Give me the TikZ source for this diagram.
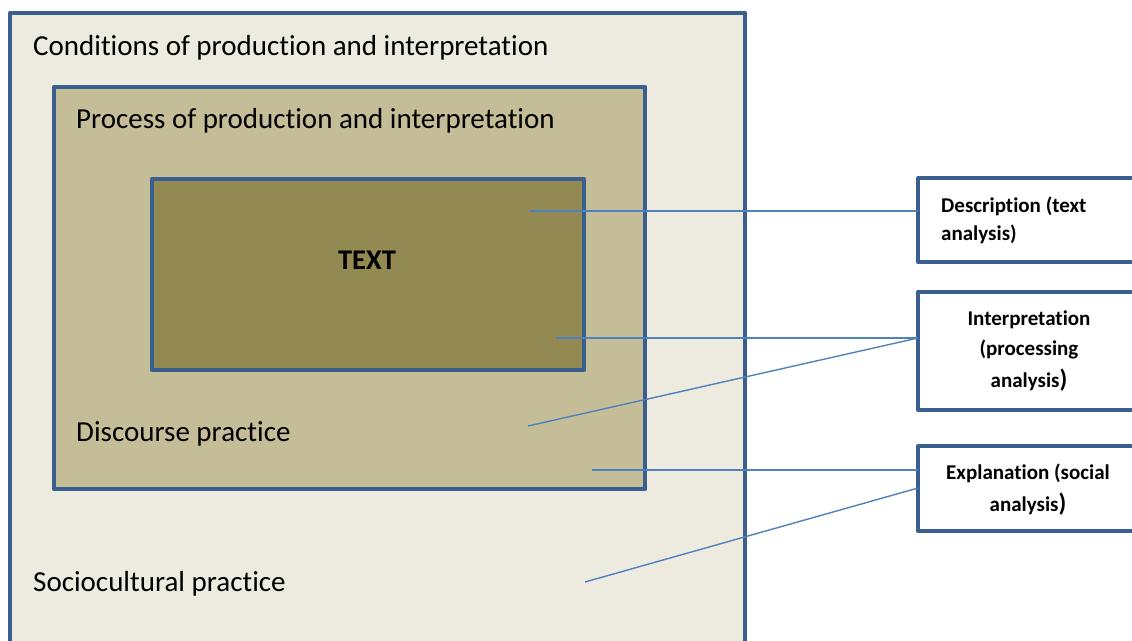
\documentclass[tikz,border=0pt]{standalone}
\usepackage{fontspec}
\setmainfont{Carlito}[Ligatures=NoCommon]
\definecolor{outerfill}{HTML}{EDEBE0}
\definecolor{midfill}{HTML}{C4BD97}
\definecolor{innerfill}{HTML}{938953}
\definecolor{boxline}{HTML}{3A5F8E}
\definecolor{conn}{HTML}{4F81BD}
\tikzset{
  frame/.style={draw=boxline, line width=4.5pt, line join=round},
  sidebox/.style={draw=boxline, line width=4pt, fill=white, line join=round},
  biglabel/.style={inner sep=0pt, anchor=base west, font=\fontsize{29}{32}\selectfont},
  sidelabel/.style={inner sep=0pt, anchor=base, font=\fontsize{21}{24}\selectfont\bfseries},
  connector/.style={draw=conn, line width=1.4pt},
}
\begin{document}
\begin{tikzpicture}[x=1pt,y=-1pt]
\useasboundingbox (0,0) rectangle (1132,640);
\clip (0,0) rectangle (1132,640);
% boxes
\path[frame, fill=outerfill] (10,13) rectangle (745,680);
\path[frame, fill=midfill] (54,87) rectangle (645,489);
\path[frame, fill=innerfill] (152,179) rectangle (584,370);
\path[sidebox] (918,178) rectangle (1160,262);
\path[sidebox] (918,292) rectangle (1160,410);
\path[sidebox] (918,446) rectangle (1160,531);
% labels
\node[biglabel] (cond) at (33,55) {Conditions of production and interpretation};
\node[biglabel] (proc) at (76,128) {Process of production and interpretation};
\node[biglabel] (disc) at (76,441) {Discourse practice};
\node[biglabel] (socio) at (33,591) {Sociocultural practice};
\node[inner sep=0pt, font=\fontsize{28.5}{32}\selectfont\bfseries] (text) at (367,260) {TEXT};
% side labels
\node[sidelabel, anchor=base west] (desc1) at (941,212) {Description (text};
\node[sidelabel, anchor=base west] (desc2) at (941,240) {analysis)};
\node[sidelabel] (int1) at (1029,325) {Interpretation};
\node[sidelabel] (int2) at (1029,355) {(processing};
\node[sidelabel] (int3) at (1029,387) {analysis\fontsize{25}{24}\selectfont)};
\node[sidelabel] (exp1) at (1028,479) {Explanation (social};
\node[sidelabel] (exp2) at (1028,511) {analysis\fontsize{25}{24}\selectfont)};
% connector endpoints
\coordinate (dA) at (530,211);
\coordinate (dB) at (918,211);
\coordinate (iA) at (556,338);
\coordinate (iB) at (918,338);
\coordinate (iC) at (528,426);
\coordinate (eA) at (592,470);
\coordinate (eB) at (918,470);
\coordinate (eC) at (585,582);
\coordinate (eD) at (918,488);
\draw[connector] (dA) -- (dB);
\draw[connector] (iA) -- (iB);
\draw[connector] (iC) -- (iB);
\draw[connector] (eA) -- (eB);
\draw[connector] (eC) -- (eD);
\end{tikzpicture}
\end{document}
